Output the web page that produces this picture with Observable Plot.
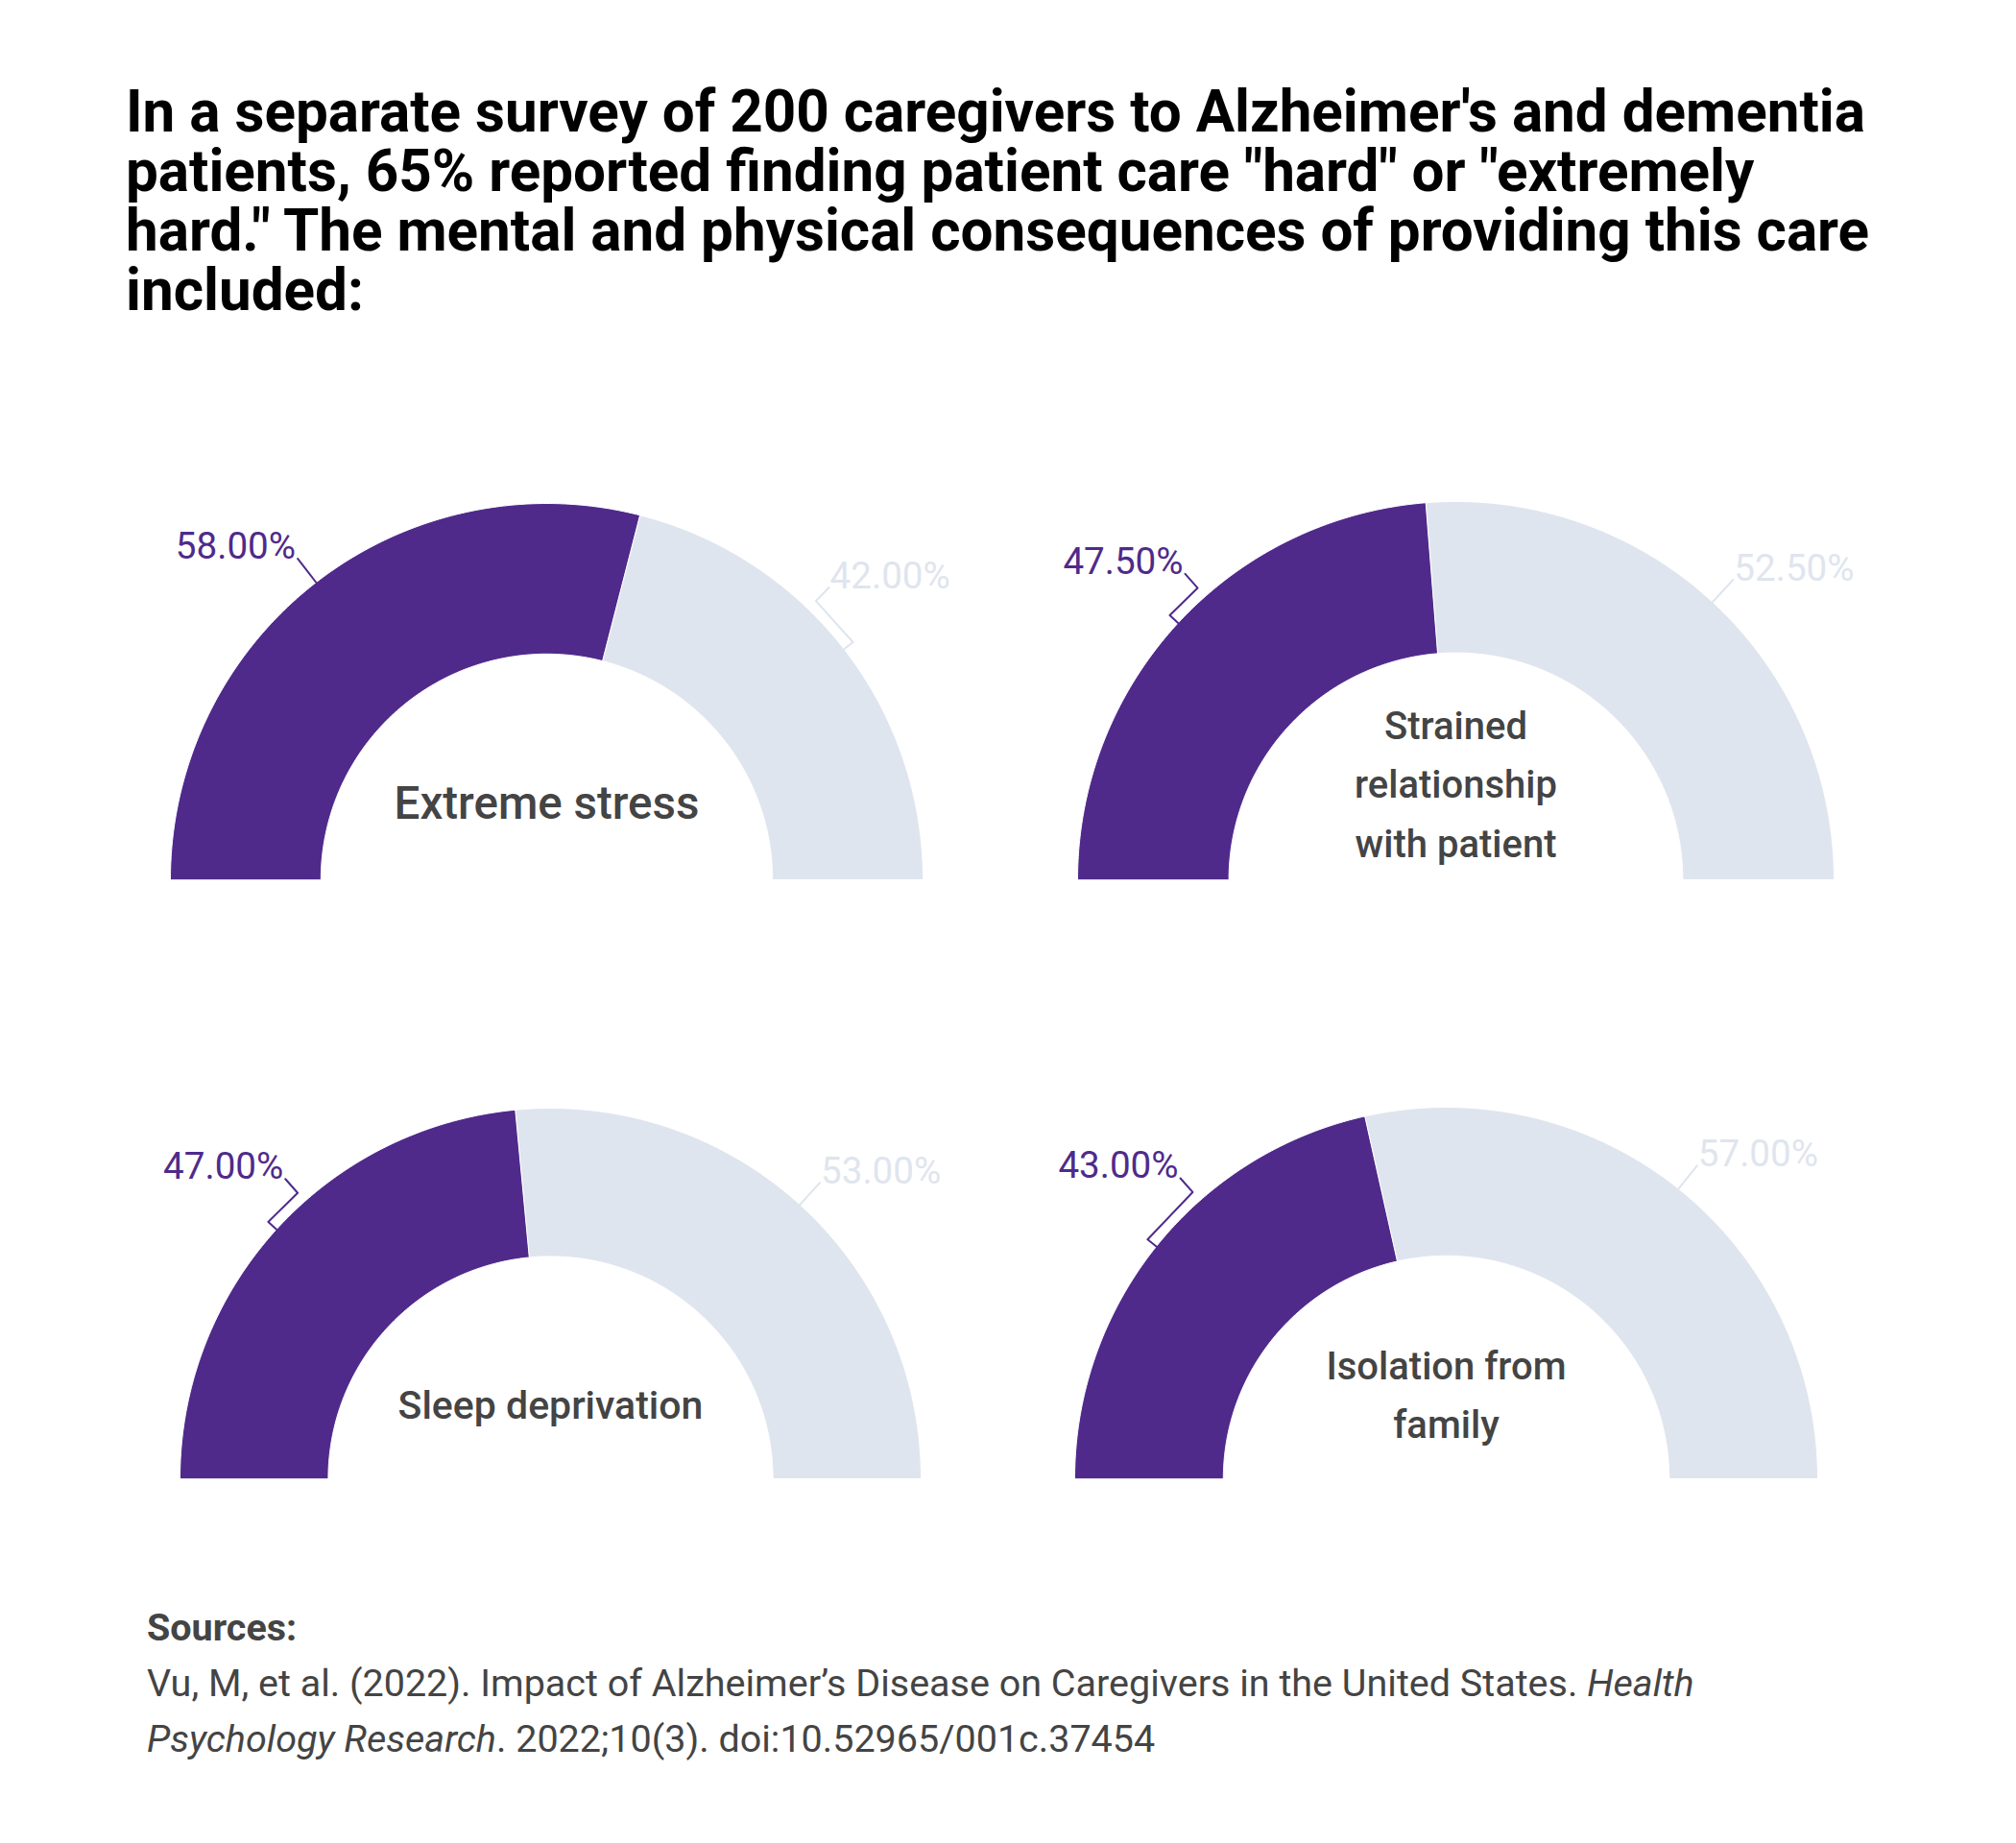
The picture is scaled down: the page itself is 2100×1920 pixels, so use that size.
<!DOCTYPE html>
<html>
<head>
<meta charset="utf-8">
<script src="https://cdn.jsdelivr.net/npm/d3@7"></script>
<script src="https://cdn.jsdelivr.net/npm/@observablehq/plot@0.6"></script>
<style>
  html, body { margin: 0; padding: 0; background: #fff; }
  body { width: 2100px; height: 1920px; position: relative; font-family: Roboto, "Noto Sans", sans-serif; overflow: hidden; }
  #title { position: absolute; left: 131px; top: 86px; font-size: 60.2px; line-height: 62px; font-weight: 700; color: #000; white-space: nowrap; }
  #chart { position: absolute; left: 0; top: 400px; }
  #sources { position: absolute; left: 153px; top: 1667px; font-size: 39.5px; line-height: 58px; color: #444; white-space: nowrap; }
  #sources b { font-weight: 700; }
</style>
</head>
<body>
<div id="title">In a separate survey of 200 caregivers to Alzheimer's and dementia<br>patients, 65% reported finding patient care "hard" or "extremely<br>hard." The mental and physical consequences of providing this care<br>included:</div>
<div id="chart"></div>
<div id="sources"><b>Sources:</b><br>Vu, M, et al. (2022). Impact of Alzheimer’s Disease on Caregivers in the United States. <i>Health</i><br><i>Psychology Research</i>. 2022;10(3). doi:10.52965/001c.37454</div>
<script>
// ---- data ----
const categories = ["Extreme stress", "Strained\nrelationship\nwith patient", "Sleep deprivation", "Isolation from\nfamily"];
const reportedPct = [58.0, 47.5, 47.0, 43.0];
const otherPct = [42.0, 52.5, 53.0, 57.0];
const partNames = ["reported", "other"];
const partColors = ["#4f2a8b", "#dfe5ee"];

// ---- layout (not data) ----
const W = 2100, H = 1240;
const gaugeCX = [569, 1516, 573, 1506];
const gaugeCY = [516, 516, 1140, 1140];
const gaugeR = [392, 394, 386, 387];
const centerFont = [47.5, 40, 41, 40];
const innerFrac = 0.6;
const deg = Math.PI / 180;

const slices = [], connectors = [], labels = [], centers = [];
categories.forEach((cat, i) => {
  const cx = gaugeCX[i], cy = gaugeCY[i], R = gaugeR[i], r = R * innerFrac;
  const pt = (a, rad) => ({x: cx + rad * Math.cos(a * deg), y: cy - rad * Math.sin(a * deg)});
  const parts = [{part: partNames[0], v: reportedPct[i]}, {part: partNames[1], v: otherPct[i]}];
  let start = 180;
  parts.forEach((p, j) => {
    const end = start - p.v * 1.8;
    const n = Math.max(2, Math.ceil((start - end) / 0.5));
    const key = `${i}-${p.part}`;
    for (let k = 0; k <= n; k++) slices.push({key, part: p.part, ...pt(start + (end - start) * k / n, R)});
    for (let k = n; k >= 0; k--) slices.push({key, part: p.part, ...pt(start + (end - start) * k / n, r)});
    const mid = (start + end) / 2;
    const la = Math.min(131.5, Math.max(46, mid));
    [pt(mid, R), pt(mid, 1.03 * R), pt(la, 1.03 * R), pt(la, 1.08 * R)]
      .forEach(q => connectors.push({key, part: p.part, ...q}));
    labels.push({part: p.part, side: j === 0 ? "left" : "right", text: p.v.toFixed(2) + "%", ...pt(la, 1.08 * R)});
    start = end;
  });
  const nLines = cat.split("\n").length;
  centers.push({text: cat, size: centerFont[i], x: cx, y: cy - (0.2 * R + 10.5 * (nLines - 1) + 5)});
});

const chart = Plot.plot({
  width: W, height: H, margin: 0,
  x: {domain: [0, W], range: [0, W], axis: null},
  y: {domain: [0, H], range: [0, H], axis: null},
  color: {domain: partNames, range: partColors},
  style: {fontFamily: "Roboto, 'Noto Sans', sans-serif", background: "white", overflow: "visible"},
  marks: [
    Plot.line(slices, {x: "x", y: "y", z: "key", fill: "part", stroke: "white", strokeWidth: 1, curve: "linear-closed"}),
    Plot.line(connectors, {x: "x", y: "y", z: "key", stroke: "part", strokeWidth: 2, curve: "linear"}),
    Plot.text(labels.filter(d => d.side === "left"), {x: "x", y: "y", text: "text", fill: "part", textAnchor: "end", lineAnchor: "bottom", dx: -2, fontSize: 38.6}),
    Plot.text(labels.filter(d => d.side === "right"), {x: "x", y: "y", text: "text", fill: "part", textAnchor: "start", lineAnchor: "bottom", dx: 1, dy: 1, fontSize: 38.6}),
    ...centers.map(c => Plot.text([c], {x: "x", y: "y", text: "text", fill: "#444", textAnchor: "middle", lineAnchor: "middle", fontSize: c.size, fontWeight: 500, lineHeight: 61.6 / c.size}))
  ]
});
document.getElementById("chart").appendChild(chart);
</script>
</body>
</html>
